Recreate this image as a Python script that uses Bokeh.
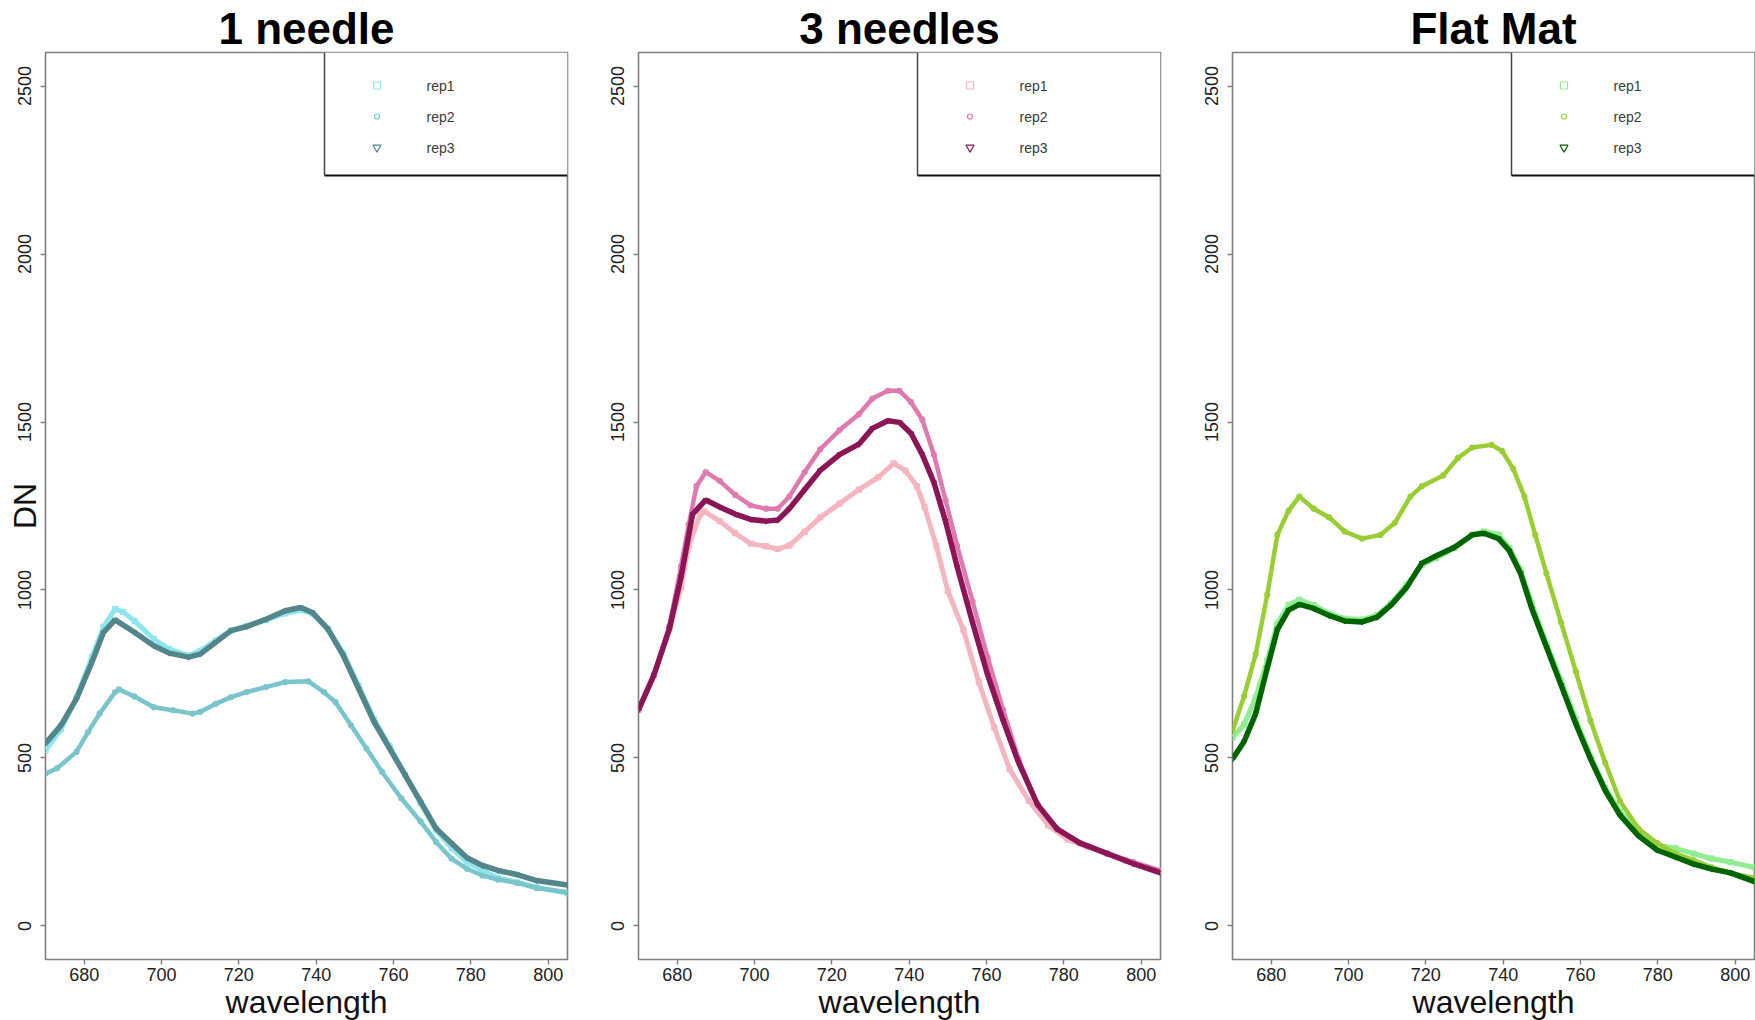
from bokeh.plotting import figure
from bokeh.models import FixedTicker, Range1d, Title
from bokeh.layouts import row
from bokeh.embed import file_html
from bokeh.resources import INLINE
from bokeh.core.properties import value

# ---------------- data ----------------
panel_titles = ["1 needle", "3 needles", "Flat Mat"]
rep_names = ["rep1", "rep2", "rep3"]
x_ticks = [680, 700, 720, 740, 760, 780, 800]
y_ticks = [0, 500, 1000, 1500, 2000, 2500]

# 1 needle
n1_rep1_wl = [670, 674, 678, 682, 685, 688, 690, 693, 698, 702, 707, 710, 714, 718, 722, 727, 732, 736, 739, 743, 747, 751, 755, 759, 763, 767, 771, 775, 779, 783, 787, 792, 797, 805]
n1_rep1_dn = [523, 585, 680, 800, 890, 943, 935, 908, 854, 824, 805, 819, 850, 880, 893, 910, 930, 940, 930, 885, 812, 715, 615, 535, 450, 365, 285, 232, 190, 165, 143, 130, 115, 97]
n1_rep2_wl = [670, 673, 678, 681, 684, 688, 689, 693, 698, 703, 708, 710, 714, 718, 722, 727, 732, 738, 742, 745, 749, 753, 757, 762, 767, 771, 775, 779, 783, 787, 792, 797, 805]
n1_rep2_dn = [454, 469, 518, 577, 632, 696, 704, 683, 651, 642, 632, 637, 661, 681, 696, 711, 726, 728, 696, 666, 597, 528, 459, 380, 311, 250, 200, 170, 150, 138, 128, 113, 100]
n1_rep3_wl = [670, 674, 678, 682, 685, 688, 693, 698, 702, 707, 710, 714, 718, 722, 727, 732, 736, 739, 743, 747, 751, 755, 759, 763, 767, 771, 775, 779, 783, 787, 792, 797, 805]
n1_rep3_dn = [543, 597, 676, 785, 874, 911, 874, 834, 812, 800, 809, 844, 879, 891, 913, 938, 948, 933, 884, 805, 706, 607, 528, 449, 370, 290, 246, 203, 180, 165, 153, 135, 122]

# 3 needles
n3_rep1_wl = [670, 674, 678, 681, 683, 686, 687, 691, 695, 699, 703, 706, 709, 713, 717, 722, 727, 732, 736, 739, 742, 744, 747, 750, 754, 758, 762, 766, 771, 776, 781, 786, 791, 796, 805]
n3_rep1_dn = [643, 747, 882, 1007, 1132, 1226, 1234, 1205, 1169, 1138, 1130, 1122, 1132, 1174, 1216, 1257, 1299, 1335, 1377, 1356, 1309, 1247, 1132, 997, 882, 726, 591, 466, 372, 299, 257, 236, 216, 195, 164]
n3_rep2_wl = [670, 674, 678, 681, 683, 685, 687.4, 691, 695, 699, 703, 706, 709, 713, 717, 722, 727, 730.5, 734.5, 737.5, 740.5, 743.4, 746.4, 749.4, 752.4, 756.4, 760.3, 764.3, 768.3, 773.2, 778.2, 784.1, 791.1, 798, 805]
n3_rep2_dn = [643, 747, 893, 1070, 1195, 1309, 1351, 1325, 1283, 1252, 1242, 1242, 1278, 1351, 1419, 1476, 1523, 1570, 1593, 1593, 1559, 1507, 1403, 1268, 1132, 966, 799, 643, 497, 361, 289, 247, 216, 190, 164]
n3_rep3_wl = [670, 674, 678, 681, 684, 687.4, 691, 695, 699, 703, 706, 709, 713, 717, 722, 727, 730.5, 734.5, 737.5, 740.5, 743.4, 746.4, 749.4, 752.4, 756.4, 760.3, 764.3, 768.3, 773.2, 778.2, 784.1, 791.1, 798, 805]
n3_rep3_dn = [643, 747, 885, 1039, 1226, 1268, 1247, 1226, 1210, 1205, 1208, 1242, 1299, 1356, 1403, 1434, 1481, 1504, 1499, 1466, 1403, 1320, 1205, 1070, 903, 747, 611, 486, 361, 289, 247, 216, 185, 158]

# Flat Mat
fm_rep1_wl = [670, 673, 676, 679, 681.6, 684.5, 687.3, 691, 695, 699, 703.5, 707.4, 711, 715, 719, 722.6, 727.4, 732, 735, 738.8, 741.6, 744.5, 747.4, 751.2, 755, 758.8, 762.6, 766.4, 770.2, 775, 779.8, 784.5, 789.3, 794, 798.8, 805]
fm_rep1_dn = [560, 600, 680, 790, 900, 955, 971, 955, 930, 915, 912, 925, 960, 1015, 1075, 1095, 1125, 1165, 1174, 1165, 1125, 1060, 960, 840, 730, 615, 505, 410, 340, 280, 240, 231, 215, 200, 190, 174]
fm_rep2_wl = [670, 673, 676, 679, 681.6, 684.5, 687.3, 691, 695, 699, 703.5, 708.3, 712, 716, 719, 724.5, 728.3, 732, 737, 739.7, 742.6, 745.5, 748.3, 751.2, 755, 758.8, 762.6, 766.4, 770.2, 775, 779.8, 784.5, 789.3, 794, 798.8, 805]
fm_rep2_dn = [580, 684, 809, 986, 1164, 1236, 1278, 1242, 1216, 1174, 1153, 1164, 1200, 1278, 1309, 1341, 1393, 1424, 1432, 1414, 1361, 1278, 1164, 1049, 903, 757, 611, 486, 372, 289, 247, 216, 195, 174, 158, 143]
fm_rep3_wl = [670, 673, 676, 679, 681.6, 684.5, 687.3, 691, 695, 699, 703.5, 707.4, 711, 715, 719, 722.6, 727.4, 732, 735, 738.8, 741.6, 744.5, 747.4, 751.2, 755, 758.8, 762.6, 766.4, 770.2, 775, 779.8, 784.5, 789.3, 794, 798.8, 805]
fm_rep3_dn = [497, 549, 632, 768, 882, 940, 957, 945, 924, 908, 905, 919, 955, 1007, 1080, 1101, 1127, 1164, 1169, 1153, 1117, 1049, 945, 830, 716, 601, 497, 403, 330, 268, 226, 205, 184, 169, 158, 132]

panel_series = [
    [(n1_rep1_wl, n1_rep1_dn), (n1_rep2_wl, n1_rep2_dn), (n1_rep3_wl, n1_rep3_dn)],
    [(n3_rep1_wl, n3_rep1_dn), (n3_rep2_wl, n3_rep2_dn), (n3_rep3_wl, n3_rep3_dn)],
    [(fm_rep1_wl, fm_rep1_dn), (fm_rep2_wl, fm_rep2_dn), (fm_rep3_wl, fm_rep3_dn)],
]
panel_colors = [
    ["#8EE5EE", "#7AC5CD", "#53868B"],
    ["#F5B5C0", "#E07AAE", "#8B1557"],
    ["#90EE90", "#9ACD32", "#006400"],
]
line_widths = [5, 4.5, 5.5]
markers = ["square", "circle", "inverted_triangle"]
legend_marker_sizes = [7, 5, 8]

# ---------------- layout constants ----------------
X0, X1 = 670, 805
Y0, Y1 = -100, 2600
FRAME_W, FRAME_H = 522, 907
TOP, BOTTOM, LEFT = 52, 61, 45
RIGHTS = [26, 27, 1]
FONT = "Liberation Sans"


def fx(px):
    return X0 + px / FRAME_W * (X1 - X0)


def fy(py_from_top):
    return Y1 - py_from_top / FRAME_H * (Y1 - Y0)


def make_panel(i):
    p = figure(frame_width=FRAME_W, frame_height=FRAME_H,
               min_border_left=LEFT, min_border_right=RIGHTS[i],
               min_border_top=TOP, min_border_bottom=BOTTOM,
               x_range=Range1d(X0, X1), y_range=Range1d(Y0, Y1),
               output_backend="svg", toolbar_location=None)
    p.title = Title(text=panel_titles[i], align="center", text_font=FONT,
                    text_font_size="44px", text_font_style="bold",
                    text_color="black", standoff=0, offset=0)
    p.grid.visible = False
    p.background_fill_color = "white"
    p.border_fill_color = "white"
    p.outline_line_color = "#7f7f7f"
    p.outline_line_width = 1.6

    for ax, ticks in ((p.xaxis[0], x_ticks), (p.yaxis[0], y_ticks)):
        ax.ticker = FixedTicker(ticks=ticks)
        ax.minor_tick_line_color = None
        ax.axis_line_color = None
        ax.major_tick_in = 0
        ax.major_tick_out = 5
        ax.major_tick_line_color = "#7f7f7f"
        ax.major_tick_line_width = 1.4
        ax.major_label_text_font = FONT
        ax.major_label_text_font_size = "18px"
        ax.major_label_text_color = "#222222"
        ax.axis_label_text_font = FONT
        ax.axis_label_text_font_size = "32px"
        ax.axis_label_text_font_style = "normal"
        ax.axis_label_text_color = "#111111"
    p.xaxis[0].major_label_standoff = 3
    p.yaxis[0].major_label_standoff = 9
    p.yaxis[0].major_label_orientation = "vertical"

    p.xaxis[0].axis_label = "wavelength"
    p.xaxis[0].axis_label_standoff = 0
    if i == 0:
        p.yaxis[0].axis_label = "DN"
        p.yaxis[0].axis_label_standoff = -27

    cols = panel_colors[i]

    # legend box (R style: box in top-right corner)
    box_left_px, box_bottom_px = 279, 123
    p.quad(left=[fx(box_left_px)], right=[X1], top=[Y1], bottom=[fy(box_bottom_px)],
           fill_color="white", line_color=None)
    p.segment(x0=[fx(box_left_px)], y0=[Y1], x1=[fx(box_left_px)], y1=[fy(box_bottom_px)],
              line_color="#444444", line_width=1.5)
    p.segment(x0=[fx(box_left_px)], y0=[fy(box_bottom_px)], x1=[X1], y1=[fy(box_bottom_px)],
              line_color="#111111", line_width=2)
    rows_px = [33, 64, 95]
    for j in range(3):
        p.scatter([fx(331.5)], [fy(rows_px[j])], marker=markers[j],
                  size=legend_marker_sizes[j], line_color=cols[j],
                  fill_color=None, line_width=1.2)
    p.text(x=[fx(381)] * 3, y=[fy(r) for r in rows_px], text=rep_names,
           text_font=value(FONT), text_font_size="14px",
           text_baseline="middle", text_align="left", text_color="#3a3a3a")

    for j, (wl, dn) in enumerate(panel_series[i]):
        p.line(wl, dn, line_color=cols[j], line_width=line_widths[j])
        p.scatter(wl, dn, marker=markers[j], size=5, line_color=cols[j],
                  fill_color=None, line_width=1.2)
    return p


plots = [make_panel(i) for i in range(3)]
layout = row(*plots)
open("out.html", "w").write(file_html(layout, INLINE))
